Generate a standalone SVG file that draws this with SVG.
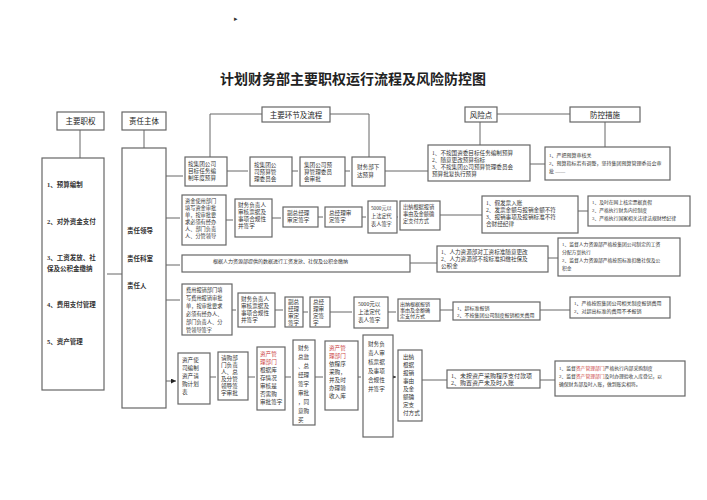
<svg xmlns="http://www.w3.org/2000/svg" width="707" height="500" viewBox="0 0 707 500">
<style>
rect{fill:#fff;stroke:#666;stroke-width:1.2}
text{font-family:"Liberation Serif","Noto Sans CJK SC",serif;font-size:5.6px;fill:#333}
.h{font-size:7.5px;fill:#222;text-anchor:middle}
.b{font-weight:bold;font-size:6.5px}
.r{fill:#c44}
.c path{fill:none;stroke:#666;stroke-width:1}
</style>
<defs><marker id="a" viewBox="0 0 6 6" refX="6" refY="3" markerWidth="5" markerHeight="5" orient="auto"><path d="M0,0L6,3L0,6z" fill="#222"/></marker></defs>
<text x="234" y="21" style="font-size:7px">▸</text>
<text x="353" y="84" class="h" style="font-size:14px;font-weight:bold">计划财务部主要职权运行流程及风险防控图</text>
<g class="c">
<path d="M80,130V158M144,130V148M210,114H369M210,114V157M369,114V157M480,114H605M480,114V145M605,114V147"/>
<path d="M107,274H122M166,176H183M166,218H180M166,265H180M166,300H180M166,381H176" marker-end="url(#a)"/>
<path d="M227,171H248M292,171H298M345,171H350M226,220H233M272,218H281M318,217H323M362,217H366M397,217H398M232,310H236M275,310H283M303,312H308M330,312H352M388,312H396M210,377H216M248,377H255M285,377H291M315,377H323M358,377H361M393,377H396" marker-end="url(#a)"/>
<path d="M385,171H428M530,164H545M440,215H482M578,211H588M410,263H437M548,258H558M440,310H453M540,310H570M422,380H447M540,380H555"/>
</g>
<g id="zyzq"><rect x="57" y="112" width="47" height="18"/><text x="80.5" y="124" class="h">主要职权</text></g>
<g id="zrzt"><rect x="122" y="112" width="44" height="18"/><text x="144" y="124" class="h">责任主体</text></g>
<g id="hj"><rect x="262" y="107" width="68" height="15"/><text x="296" y="117.5" class="h">主要环节及流程</text></g>
<g id="fxd"><rect x="465" y="107" width="32" height="15"/><text x="481" y="117.5" class="h">风险点</text></g>
<g id="fk"><rect x="570" y="107" width="70" height="15"/><text x="605" y="117.5" class="h">防控措施</text></g>
<g id="zq"><rect x="42" y="158" width="62" height="232"/>
<text class="b" x="47" y="187">1、预算编制</text><text class="b" x="47" y="224">2、对外资金支付</text><text class="b" x="47" y="260">3、工资发放、社</text><text class="b" x="47" y="271">保及公积金缴纳</text><text class="b" x="47" y="307">4、费用支付管理</text><text class="b" x="47" y="344">5、资产管理</text></g>
<g id="zt"><rect x="122" y="148" width="44" height="260"/>
<text class="b" x="127" y="233">责任领导</text><text class="b" x="127" y="261">责任科室</text><text class="b" x="127" y="288">责任人</text></g>
<g id="a1"><rect x="185" y="157" width="42" height="29"/><text x="188" y="166"><tspan x="188">按集团公司</tspan><tspan x="188" dy="7">目标任务编</tspan><tspan x="188" dy="7">制年度预算</tspan></text></g>
<g id="a2"><rect x="250" y="157" width="42" height="29"/><text x="254" y="167"><tspan x="254">按集团公</tspan><tspan x="254" dy="7">司预算管</tspan><tspan x="254" dy="7">理委员会</tspan></text></g>
<g id="a3"><rect x="300" y="157" width="45" height="29"/><text x="304" y="167"><tspan x="304">集团公司预</tspan><tspan x="304" dy="7">算管理委员</tspan><tspan x="304" dy="7">会审批</tspan></text></g>
<g id="a4"><rect x="352" y="157" width="33" height="29"/><text x="357" y="169"><tspan x="357">财务部下</tspan><tspan x="357" dy="8">达预算</tspan></text></g>
<g id="ar"><rect x="428" y="145" width="102" height="36"/><text x="432" y="155"><tspan x="432">1、不按国资委目标任务编制预算</tspan><tspan x="432" dy="7">2、随意更改预算指标</tspan><tspan x="432" dy="7">3、不按集团公司预算管理委员会</tspan><tspan x="432" dy="7">预算批复执行预算</tspan></text></g>
<g id="am"><rect x="545" y="147" width="125" height="33"/><text x="549" y="157" style="font-size:5px"><tspan x="549">1、严把预算审核关</tspan><tspan x="549" dy="8">2、预算指标若有调整，坚持集团预算管理委员会审</tspan><tspan x="549" dy="8">批 ——</tspan></text></g>
<g id="b1"><rect x="182" y="195" width="44" height="50"/><text x="185" y="203" style="font-size:5.2px"><tspan x="185">资金使用部门</tspan><tspan x="185" dy="7">填写资金审批</tspan><tspan x="185" dy="7">单，按审批要</tspan><tspan x="185" dy="7">求必须有经办</tspan><tspan x="185" dy="7">人、部门负责</tspan><tspan x="185" dy="7">人、分管领导</tspan></text></g>
<g id="b2"><rect x="235" y="199" width="37" height="38"/><text x="238" y="207"><tspan x="238">财务负责人</tspan><tspan x="238" dy="7">审核票据及</tspan><tspan x="238" dy="7">事项合规性</tspan><tspan x="238" dy="7">并签字</tspan></text></g>
<g id="b3"><rect x="283" y="207" width="35" height="20"/><text x="287" y="215"><tspan x="287">副总经理</tspan><tspan x="287" dy="7">审定签字</tspan></text></g>
<g id="b4"><rect x="325" y="207" width="37" height="20"/><text x="329" y="215"><tspan x="329">总经理审</tspan><tspan x="329" dy="7">定签字</tspan></text></g>
<g id="b5"><rect x="368" y="201" width="29" height="32"/><text x="371" y="210" style="font-size:5.2px"><tspan x="371">5000元以</tspan><tspan x="371" dy="8">上法定代</tspan><tspan x="371" dy="8">表人签字</tspan></text></g>
<g id="b6"><rect x="400" y="201" width="40" height="29"/><text x="403" y="209" style="font-size:5.2px"><tspan x="403">出纳根据报销</tspan><tspan x="403" dy="7">事由及金额确</tspan><tspan x="403" dy="7">定支付方式</tspan></text></g>
<g id="br"><rect x="482" y="196" width="96" height="37"/><text x="486" y="205"><tspan x="486">1、假发票入账</tspan><tspan x="486" dy="7">2、发票金额与报销金额不符</tspan><tspan x="486" dy="7">3、报销事项及报销标准不符</tspan><tspan x="486" dy="7">合财经纪律</tspan></text></g>
<g id="bm"><rect x="588" y="196" width="102" height="30"/><text x="592" y="204" style="font-size:4.8px"><tspan x="592">1、及时在网上核定票据真假</tspan><tspan x="592" dy="8">2、严格执行财务内控制度</tspan><tspan x="592" dy="8">3、严格执行国家相关法律法规财经纪律</tspan></text></g>
<g id="c1"><rect x="182" y="255" width="228" height="17"/><text x="213" y="263" style="font-size:5px">根据人力资源部提供的数据进行工资发放、社保及公积金缴纳</text></g>
<g id="cr"><rect x="437" y="246" width="111" height="26"/><text x="441" y="254"><tspan x="441">1、人力资源部对工资标准随意更改</tspan><tspan x="441" dy="7">2、人力资源部不按标准扣缴社保及</tspan><tspan x="441" dy="7">公积金</tspan></text></g>
<g id="cm"><rect x="558" y="238" width="122" height="38"/><text x="562" y="246" style="font-size:4.8px"><tspan x="562">1、监督人力资源部严格按集团公司制定的工资</tspan><tspan x="562" dy="8">分配方案执行</tspan><tspan x="562" dy="8">2、监督人力资源部严格按照标准扣缴社保及公</tspan><tspan x="562" dy="8">积金</tspan></text></g>
<g id="d1"><rect x="182" y="284" width="50" height="51"/><text x="186" y="292" style="font-size:5.2px"><tspan x="186">费用报销部门填</tspan><tspan x="186" dy="8">写费用报销审批</tspan><tspan x="186" dy="8">单，按审批要求</tspan><tspan x="186" dy="8">必须有经办人、</tspan><tspan x="186" dy="8">部门负责人、分</tspan><tspan x="186" dy="8">管领导签字</tspan></text></g>
<g id="d2"><rect x="238" y="293" width="37" height="34"/><text x="241" y="301"><tspan x="241">财务负责人</tspan><tspan x="241" dy="7">审核票据及</tspan><tspan x="241" dy="7">事项合规性</tspan><tspan x="241" dy="7">并签字</tspan></text></g>
<g id="d3"><rect x="285" y="297" width="18" height="30"/><text x="288" y="304"><tspan x="288">副总</tspan><tspan x="288" dy="7">经理</tspan><tspan x="288" dy="7">审定</tspan><tspan x="288" dy="7">签字</tspan></text></g>
<g id="d4"><rect x="310" y="297" width="20" height="30"/><text x="313" y="304"><tspan x="313">总经</tspan><tspan x="313" dy="7">理审</tspan><tspan x="313" dy="7">定签</tspan><tspan x="313" dy="7">字</tspan></text></g>
<g id="d5"><rect x="354" y="297" width="34" height="31"/><text x="358" y="306"><tspan x="358">5000元以</tspan><tspan x="358" dy="8">上法定代</tspan><tspan x="358" dy="8">表人签字</tspan></text></g>
<g id="d6"><rect x="398" y="299" width="42" height="22"/><text x="400" y="306" style="font-size:5px"><tspan x="400">出纳根据报销</tspan><tspan x="400" dy="6">事由及金额确</tspan><tspan x="400" dy="6">定支付方式</tspan></text></g>
<g id="dr"><rect x="453" y="302" width="87" height="18"/><text x="457" y="310" style="font-size:5px"><tspan x="457">1、超标准报销</tspan><tspan x="457" dy="7">2、不按集团公司制度报销相关费用</tspan></text></g>
<g id="dm"><rect x="570" y="297" width="100" height="21"/><text x="574" y="305" style="font-size:5px"><tspan x="574">1、严格按照集团公司相关制度报销费用</tspan><tspan x="574" dy="8">2、对超出标准的费用不予报销</tspan></text></g>
<g id="e1"><rect x="178" y="353" width="32" height="51"/><text x="182" y="362"><tspan x="182">资产使</tspan><tspan x="182" dy="8">司编制</tspan><tspan x="182" dy="8">资产请</tspan><tspan x="182" dy="8">购计划</tspan><tspan x="182" dy="8">表</tspan></text></g>
<g id="e2"><rect x="218" y="352" width="30" height="48"/><text x="221" y="360"><tspan x="221">请购部</tspan><tspan x="221" dy="7">门负责</tspan><tspan x="221" dy="7">人、总</tspan><tspan x="221" dy="7">及分管</tspan><tspan x="221" dy="7">领导签</tspan><tspan x="221" dy="7">字审批</tspan></text></g>
<g id="e3"><rect x="257" y="347" width="28" height="63"/><text x="260" y="356"><tspan x="260" class="r">资产管</tspan><tspan x="260" dy="8" class="r">理部门</tspan><tspan x="260" dy="8">根据库</tspan><tspan x="260" dy="8">存情况</tspan><tspan x="260" dy="8">审核是</tspan><tspan x="260" dy="8">否需购</tspan><tspan x="260" dy="8">审批签字</tspan></text></g>
<g id="e4"><rect x="293" y="340" width="22" height="85"/><text x="298" y="350"><tspan x="298">财务</tspan><tspan x="298" dy="9">总监</tspan><tspan x="298" dy="9">、总</tspan><tspan x="298" dy="9">经理</tspan><tspan x="298" dy="9">签字</tspan><tspan x="298" dy="9">审批</tspan><tspan x="298" dy="9">，同</tspan><tspan x="298" dy="9">意购</tspan><tspan x="298" dy="9">买</tspan></text></g>
<g id="e5"><rect x="325" y="341" width="33" height="69"/><text x="329" y="350"><tspan x="329" class="r">资产管</tspan><tspan x="329" dy="8" class="r">理部门</tspan><tspan x="329" dy="8">依程序</tspan><tspan x="329" dy="8">采购，</tspan><tspan x="329" dy="8">并及时</tspan><tspan x="329" dy="8">办理验</tspan><tspan x="329" dy="8">收入库</tspan></text></g>
<g id="e6"><rect x="363" y="335" width="30" height="102"/><text x="368" y="346"><tspan x="368">财务负</tspan><tspan x="368" dy="9">责人审</tspan><tspan x="368" dy="9">核票据</tspan><tspan x="368" dy="9">及事项</tspan><tspan x="368" dy="9">合规性</tspan><tspan x="368" dy="9">并签字</tspan></text></g>
<g id="e7"><rect x="398" y="350" width="24" height="71"/><text x="403" y="359"><tspan x="403">出纳</tspan><tspan x="403" dy="8">根据</tspan><tspan x="403" dy="8">报销</tspan><tspan x="403" dy="8">事由</tspan><tspan x="403" dy="8">及金</tspan><tspan x="403" dy="8">额确</tspan><tspan x="403" dy="8">定支</tspan><tspan x="403" dy="8">付方式</tspan></text></g>
<g id="er"><rect x="447" y="370" width="93" height="18"/><text x="451" y="378" style="font-size:6px"><tspan x="451">1、未按资产采购程序支付款项</tspan><tspan x="451" dy="7">2、购置资产未及时入账</tspan></text></g>
<g id="em"><rect x="555" y="361" width="130" height="35"/><text x="559" y="370" style="font-size:4.8px"><tspan x="559">1、监督<tspan class="r">资产管理部门</tspan>严格执行内部采购制度</tspan><tspan x="559" dy="8">2、监督<tspan class="r">资产管理部门</tspan>及时办理验收入库登记，以</tspan><tspan x="559" dy="8">确保财务部及时入账，做到账实相符。</tspan></text></g>
</svg>
